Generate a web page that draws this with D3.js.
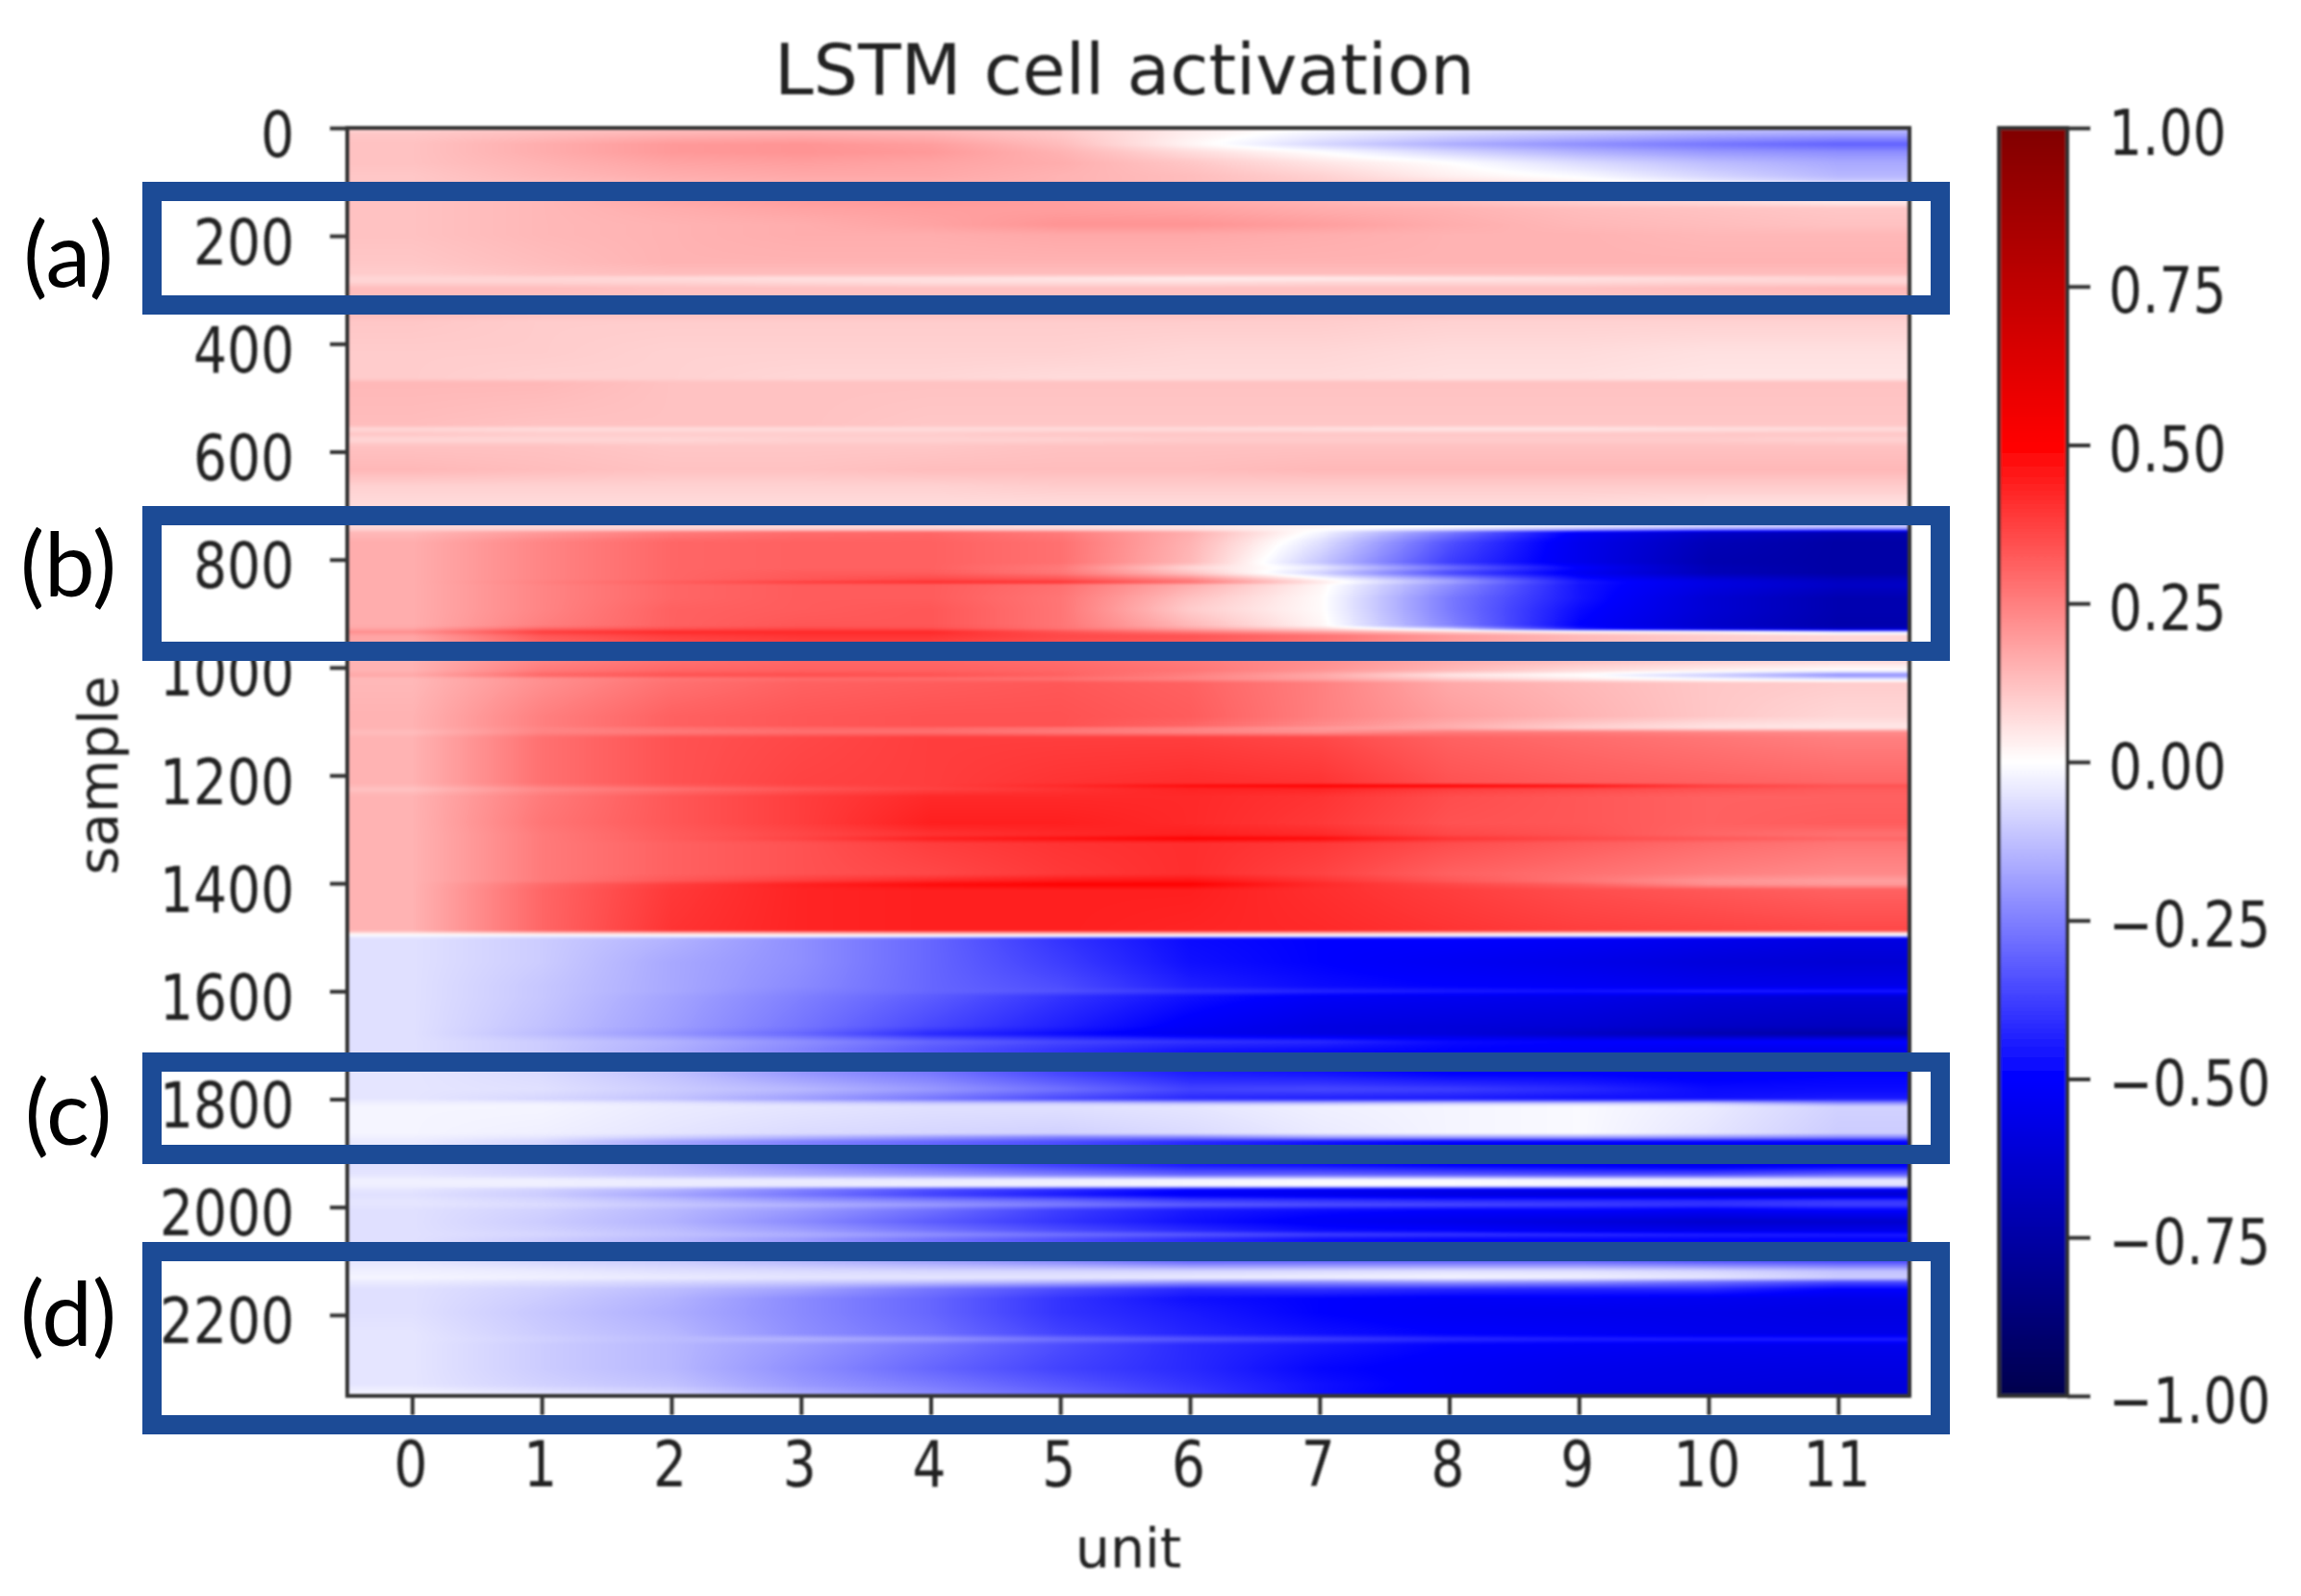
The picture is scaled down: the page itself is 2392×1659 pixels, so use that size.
<!DOCTYPE html>
<html>
<head>
  <meta charset="utf-8">
  <script src="https://d3js.org/d3.v7.min.js"></script>
  <style>
    body {
  margin: 0;
  background-color: #ffffff;
}

#heat, #chart {
  position: absolute;
  left: 0;
  top: 0;
}

#heat {
  filter: blur(1.2px);
}

.tick line {
  stroke: #333333;
  stroke-width: 4px;
}

.tick text, .axis-label {
  font-family: 'DejaVu Sans', sans-serif;
  fill: #222222;
}

.panel-label {
  font-family: 'Lato', sans-serif;
  font-size: 94px;
  fill: #000000;
  text-anchor: middle;
}
  </style>
</head>
<body>
<canvas id="heat"></canvas>
<svg id="chart"></svg>

<script>
// Cell activation: one row per sample position, 12 units.
const units = d3.range(12);

const sampleRows = [
  0, 12, 30, 45, 64, 89, 99, 103,
  139, 149, 180, 198, 248, 270, 279, 287, 297,
  347, 359, 416, 464, 472, 550, 558, 567, 578, 590, 634, 664, 699, 733, 743,
  750, 768, 805, 815, 825, 837, 842, 847, 872, 892, 922, 928, 934, 941,
  989, 1005, 1014, 1021, 1029, 1090, 1108, 1112, 1120, 1130, 1214, 1219, 1225, 1239,
  1288, 1310, 1317, 1326, 1382, 1395, 1402, 1412, 1487, 1491, 1497,
  1503, 1546, 1591, 1600, 1610, 1665, 1679, 1693, 1709,
  1754, 1782, 1799, 1808, 1814, 1863, 1871, 1879,
  1923, 1940, 1950, 1960, 1968, 1977, 1988, 1996, 2006, 2027, 2043, 2051, 2061,
  2101, 2119, 2131, 2139, 2152, 2170, 2196, 2235, 2245, 2255, 2299, 2329, 2347
];

const activation = [
  [.08,.10,.12,.13,.12,.10,.04,.00,-.03,-.06,-.10,-.12],
  [.11,.13,.15,.16,.15,.11,.03,-.03,-.08,-.12,-.16,-.18],
  [.12,.16,.20,.21,.19,.13,.02,-.08,-.16,-.22,-.27,-.31],
  [.12,.16,.20,.21,.20,.15,.07,.00,-.08,-.15,-.20,-.22],
  [.12,.15,.18,.19,.18,.16,.11,.05,.00,-.07,-.13,-.17],
  [.11,.14,.16,.17,.17,.15,.13,.09,.03,-.01,-.08,-.14],
  [.11,.13,.15,.16,.16,.15,.13,.10,.06,.02,-.04,-.10],
  [.11,.13,.15,.16,.17,.17,.16,.14,.12,.10,.08,.05],
  // (a)
  [.12,.14,.17,.19,.20,.19,.17,.15,.13,.10,.08,.05],
  [.12,.14,.16,.18,.19,.19,.18,.16,.15,.13,.12,.11],
  [.12,.14,.15,.16,.18,.21,.21,.19,.16,.14,.13,.12],
  [.12,.14,.15,.16,.16,.17,.17,.16,.15,.15,.14,.14],
  [.11,.13,.15,.15,.15,.15,.15,.15,.15,.15,.15,.15],
  [.10,.12,.13,.13,.13,.13,.13,.13,.13,.13,.13,.13],
  [.08,.08,.07,.06,.06,.05,.04,.04,.05,.06,.07,.08],
  [.09,.09,.09,.08,.07,.07,.07,.08,.08,.08,.09,.09],
  [.13,.13,.12,.12,.12,.12,.12,.12,.12,.12,.13,.14],
  // pale band
  [.13,.12,.12,.12,.12,.12,.12,.11,.11,.11,.11,.11],
  [.11,.10,.10,.10,.10,.10,.10,.10,.09,.09,.09,.09],
  [.10,.10,.09,.09,.09,.09,.08,.08,.07,.07,.06,.06],
  [.10,.09,.09,.08,.08,.07,.07,.07,.06,.06,.05,.05],
  [.14,.14,.12,.12,.12,.12,.12,.12,.12,.12,.12,.12],
  [.13,.12,.12,.12,.11,.11,.11,.11,.11,.11,.11,.11],
  [.08,.07,.07,.07,.07,.07,.07,.06,.05,.05,.06,.07],
  [.11,.10,.10,.10,.10,.11,.11,.11,.11,.11,.11,.11],
  [.08,.08,.08,.09,.09,.09,.10,.10,.10,.10,.10,.09],
  [.12,.12,.11,.11,.11,.12,.12,.12,.12,.12,.12,.12],
  [.14,.13,.12,.12,.13,.13,.13,.14,.14,.14,.14,.14],
  [.09,.09,.09,.09,.09,.10,.10,.10,.10,.10,.10,.10],
  [.07,.07,.07,.07,.07,.07,.07,.07,.07,.07,.06,.06],
  [.08,.09,.09,.09,.09,.08,.07,.04,.02,.00,-.03,-.05],
  [.08,.08,.08,.08,.08,.07,.05,.01,-.05,-.12,-.17,-.20],
  // (b)
  [.14,.20,.26,.29,.30,.26,.16,-.02,-.26,-.52,-.66,-.72],
  [.16,.24,.30,.31,.31,.28,.15,-.06,-.34,-.55,-.70,-.75],
  [.16,.24,.30,.31,.31,.28,.14,-.11,-.38,-.55,-.72,-.75],
  [.16,.24,.30,.31,.31,.26,.08,-.04,-.28,-.50,-.70,-.75],
  [.16,.24,.30,.32,.32,.27,.12,-.09,-.36,-.53,-.70,-.75],
  [.16,.24,.30,.33,.36,.34,.24,.02,-.20,-.47,-.60,-.69],
  [.16,.25,.32,.38,.41,.40,.28,.05,-.18,-.45,-.58,-.67],
  [.16,.24,.30,.32,.32,.28,.16,.02,-.22,-.46,-.58,-.66],
  [.16,.24,.30,.32,.32,.27,.12,.01,-.26,-.46,-.62,-.72],
  [.16,.24,.31,.32,.33,.27,.10,.01,-.26,-.48,-.62,-.72],
  [.16,.25,.31,.33,.33,.27,.14,.02,-.24,-.50,-.64,-.73],
  [.18,.30,.34,.36,.35,.28,.18,.08,-.10,-.45,-.60,-.68],
  [.22,.38,.42,.42,.42,.34,.26,.18,.10,.04,.02,-.08],
  [.18,.33,.38,.40,.40,.36,.34,.28,.20,.14,.10,.08],
  // red block
  [.15,.24,.28,.30,.30,.29,.26,.22,.16,.12,.09,.07],
  [.15,.26,.30,.31,.31,.30,.27,.21,.14,.07,.03,.00],
  [.17,.30,.34,.35,.34,.31,.25,.17,.05,.00,-.10,-.22],
  [.14,.22,.27,.29,.29,.28,.24,.18,.10,.04,-.02,-.07],
  [.14,.22,.28,.31,.32,.33,.31,.25,.17,.14,.11,.10],
  [.15,.25,.31,.33,.34,.34,.32,.25,.19,.15,.11,.08],
  [.15,.25,.31,.33,.34,.34,.30,.23,.16,.10,.06,.05],
  [.15,.24,.28,.30,.30,.28,.25,.20,.16,.09,.06,.05],
  [.13,.24,.26,.28,.28,.26,.24,.22,.26,.26,.24,.23],
  [.15,.28,.34,.36,.38,.38,.38,.36,.31,.29,.27,.25],
  [.15,.28,.34,.37,.38,.40,.41,.40,.34,.32,.31,.30],
  [.14,.26,.32,.36,.38,.42,.48,.50,.50,.47,.38,.34],
  [.12,.23,.28,.33,.37,.40,.43,.43,.38,.36,.34,.32],
  [.15,.26,.33,.38,.42,.42,.42,.40,.35,.33,.31,.31],
  [.15,.27,.33,.38,.44,.44,.42,.39,.34,.33,.31,.32],
  [.15,.26,.32,.36,.40,.42,.44,.42,.36,.34,.30,.28],
  [.15,.26,.32,.37,.44,.47,.50,.48,.40,.36,.33,.30],
  [.15,.26,.31,.34,.38,.40,.41,.39,.35,.32,.29,.27],
  [.15,.26,.31,.34,.36,.39,.41,.37,.31,.28,.25,.23],
  [.15,.26,.33,.38,.42,.45,.46,.40,.33,.27,.21,.19],
  [.15,.29,.38,.44,.48,.50,.50,.42,.36,.31,.22,.20],
  [.15,.30,.39,.43,.44,.44,.44,.41,.38,.35,.33,.31],
  [.15,.30,.40,.43,.44,.44,.43,.42,.40,.38,.37,.36],
  [.08,.15,.18,.20,.22,.22,.22,.20,.18,.16,.15,.14],
  [-.02,-.03,-.02,.00,.00,.00,.00,-.01,-.03,-.05,-.06,-.07],
  // blue block
  [-.06,-.10,-.15,-.22,-.30,-.40,-.48,-.50,-.50,-.52,-.55,-.58],
  [-.06,-.10,-.17,-.22,-.30,-.38,-.47,-.50,-.53,-.56,-.60,-.62],
  [-.06,-.11,-.17,-.23,-.30,-.35,-.44,-.48,-.50,-.52,-.55,-.56],
  [-.06,-.11,-.17,-.24,-.30,-.34,-.40,-.43,-.45,-.46,-.44,-.45],
  [-.06,-.11,-.18,-.25,-.32,-.40,-.47,-.52,-.54,-.56,-.60,-.62],
  [-.06,-.12,-.19,-.27,-.36,-.44,-.52,-.58,-.60,-.62,-.66,-.68],
  [-.06,-.13,-.21,-.30,-.42,-.48,-.54,-.58,-.60,-.66,-.72,-.75],
  [-.06,-.10,-.15,-.22,-.30,-.36,-.40,-.42,-.48,-.50,-.50,-.50],
  [-.06,-.10,-.16,-.24,-.33,-.40,-.46,-.48,-.50,-.52,-.55,-.55],
  // (c)
  [-.05,-.07,-.12,-.20,-.26,-.36,-.44,-.46,-.50,-.50,-.52,-.50],
  [-.05,-.06,-.10,-.14,-.20,-.28,-.37,-.36,-.38,-.42,-.48,-.48],
  [-.05,-.08,-.12,-.19,-.27,-.36,-.42,-.44,-.45,-.47,-.47,-.45],
  [-.03,-.03,-.05,-.08,-.10,-.10,-.12,-.12,-.10,-.10,-.10,-.20],
  [-.02,-.02,-.04,-.05,-.06,-.06,-.05,-.03,-.02,-.01,-.04,-.09],
  [-.02,-.03,-.05,-.07,-.08,-.09,-.07,-.04,-.02,-.01,-.05,-.10],
  [-.03,-.05,-.10,-.15,-.20,-.25,-.25,-.20,-.20,-.20,-.22,-.25],
  [-.04,-.08,-.18,-.25,-.30,-.35,-.42,-.47,-.50,-.50,-.50,-.50],
  // between (c) and (d)
  [-.06,-.09,-.14,-.22,-.30,-.38,-.45,-.47,-.50,-.52,-.55,-.52],
  [-.05,-.08,-.12,-.16,-.20,-.25,-.30,-.30,-.32,-.34,-.34,-.30],
  [-.03,-.03,-.04,-.04,-.04,-.03,-.02,-.01,-.01,-.02,-.03,-.05],
  [-.03,-.03,-.04,-.04,-.03,-.03,-.02,-.01,-.01,-.02,-.03,-.06],
  [-.05,-.09,-.15,-.25,-.35,-.42,-.50,-.53,-.55,-.55,-.55,-.55],
  [-.06,-.10,-.18,-.27,-.37,-.45,-.52,-.55,-.58,-.60,-.62,-.62],
  [-.05,-.08,-.13,-.20,-.25,-.30,-.38,-.40,-.42,-.42,-.42,-.40],
  [-.05,-.07,-.11,-.15,-.20,-.26,-.32,-.35,-.36,-.38,-.40,-.38],
  [-.06,-.09,-.14,-.20,-.28,-.38,-.45,-.48,-.50,-.50,-.52,-.50],
  [-.06,-.10,-.15,-.23,-.32,-.40,-.47,-.52,-.56,-.60,-.64,-.64],
  [-.06,-.09,-.13,-.19,-.27,-.35,-.42,-.48,-.50,-.54,-.56,-.56],
  [-.06,-.08,-.12,-.16,-.22,-.28,-.33,-.38,-.40,-.42,-.44,-.45],
  [-.06,-.10,-.14,-.20,-.28,-.35,-.42,-.48,-.50,-.50,-.50,-.50],
  // (d)
  [-.05,-.08,-.10,-.14,-.18,-.23,-.30,-.30,-.30,-.30,-.33,-.35],
  [-.03,-.04,-.06,-.07,-.08,-.08,-.08,-.07,-.06,-.06,-.08,-.12],
  [-.02,-.03,-.04,-.05,-.05,-.05,-.04,-.03,-.02,-.03,-.05,-.10],
  [-.04,-.06,-.08,-.10,-.12,-.15,-.20,-.22,-.20,-.22,-.28,-.35],
  [-.06,-.09,-.13,-.18,-.27,-.35,-.42,-.40,-.42,-.43,-.42,-.50],
  [-.06,-.10,-.15,-.23,-.30,-.40,-.47,-.50,-.52,-.52,-.54,-.56],
  [-.06,-.11,-.16,-.23,-.30,-.40,-.45,-.50,-.53,-.55,-.56,-.58],
  [-.05,-.10,-.14,-.22,-.28,-.37,-.43,-.47,-.50,-.52,-.55,-.56],
  [-.05,-.09,-.13,-.15,-.20,-.28,-.33,-.38,-.42,-.44,-.44,-.44],
  [-.05,-.10,-.14,-.20,-.27,-.35,-.42,-.46,-.50,-.52,-.54,-.55],
  [-.05,-.10,-.14,-.22,-.30,-.37,-.42,-.49,-.52,-.55,-.57,-.58],
  [-.05,-.09,-.12,-.20,-.26,-.33,-.40,-.47,-.52,-.56,-.58,-.60],
  [-.02,-.05,-.08,-.16,-.23,-.30,-.38,-.47,-.53,-.57,-.60,-.60]
];

const sampleTicks = d3.range(0, 2400, 200);
const colorTicks = [1, 0.75, 0.5, 0.25, 0, -0.25, -0.5, -0.75, -1];

const panelNames = ["(a)", "(b)", "(c)", "(d)"];
const panelTop = [189, 526, 1094, 1291];
const panelBottom = [327, 687, 1210, 1491];
const panelBaseline = [298, 620, 1190, 1399];

if (sampleRows.length !== activation.length) console.error("row count mismatch");

const width = 2392;
const height = 1659;
const plot = { left: 361, right: 1985, top: 133, bottom: 1451 };
const bar = { left: 2078, right: 2149 };

const x = d3.scaleLinear().domain([-0.5, 11.55]).range([plot.left, plot.right]);
const y = d3.scaleLinear().domain([0, 2350]).range([plot.top, plot.bottom]);
const barY = d3.scaleLinear().domain([-1, 1]).range([plot.bottom, plot.top]);

// same breakpoints as matplotlib's seismic colormap
const color = d3.scaleLinear()
  .domain([-1, -0.5, 0, 0.5, 1])
  .range(["#00004c", "#0000ff", "#ffffff", "#ff0000", "#800000"]);

// Heatmap, interpolated per pixel like imshow does
const canvas = document.getElementById("heat");
canvas.width = width;
canvas.height = height;
const ctx = canvas.getContext("2d");
const lut = d3.range(2001).map(i => d3.rgb(color(i / 1000 - 1)));
const w = plot.right - plot.left;
const h = plot.bottom - plot.top;
const img = ctx.createImageData(w, h);

for (let py = 0; py < h; py++) {
  const s = y.invert(plot.top + py + 0.5);
  const r1 = Math.min(d3.bisectRight(sampleRows, s), sampleRows.length - 1);
  const r0 = Math.max(r1 - 1, 0);
  const span = sampleRows[r1] - sampleRows[r0];
  const tr = span > 0 ? Math.min(Math.max((s - sampleRows[r0]) / span, 0), 1) : 0;
  for (let px = 0; px < w; px++) {
    const u = Math.min(Math.max(x.invert(plot.left + px + 0.5), 0), 11);
    const c0 = Math.floor(u);
    const c1 = Math.min(c0 + 1, 11);
    const tc = u - c0;
    const top = activation[r0][c0] * (1 - tc) + activation[r0][c1] * tc;
    const bot = activation[r1][c0] * (1 - tc) + activation[r1][c1] * tc;
    const col = lut[Math.round((top * (1 - tr) + bot * tr + 1) * 1000)];
    const k = (py * w + px) * 4;
    img.data[k] = col.r;
    img.data[k + 1] = col.g;
    img.data[k + 2] = col.b;
    img.data[k + 3] = 255;
  }
}
ctx.putImageData(img, plot.left, plot.top);

const svg = d3.select("#chart")
  .attr("width", width)
  .attr("height", height);

const defs = svg.append("defs");

defs.append("filter")
  .attr("id", "soft")
  .append("feGaussianBlur")
  .attr("stdDeviation", 0.9);

defs.append("linearGradient")
  .attr("id", "bar-gradient")
  .attr("x1", 0).attr("x2", 0).attr("y1", 1).attr("y2", 0)
  .selectAll("stop")
  .data(color.domain())
  .enter()
  .append("stop")
  .attr("offset", d => (d + 1) / 2)
  .attr("stop-color", d => color(d));

const chart = svg.append("g").attr("filter", "url(#soft)");

// the digits in the picture are stretched a bit vertically
function styleLabels(g, dx, dy, anchor) {
  g.select(".domain").remove();
  g.selectAll(".tick text")
    .attr("x", null)
    .attr("y", null)
    .attr("dy", null)
    .style("text-anchor", anchor)
    .style("font-size", "55px")
    .attr("transform", `translate(${dx},${dy}) scale(1,1.2)`);
}

chart.append("g")
  .attr("transform", `translate(0,${plot.bottom})`)
  .call(d3.axisBottom(x).tickValues(units).tickSize(20).tickFormat(d3.format("d")))
  .attr("font-family", null).attr("font-size", null)
  .call(g => styleLabels(g, -2, 94, "middle"));

chart.append("g")
  .attr("transform", `translate(${plot.left},0)`)
  .call(d3.axisLeft(y).tickValues(sampleTicks).tickSize(18).tickFormat(d3.format("d")))
  .attr("font-family", null).attr("font-size", null)
  .call(g => styleLabels(g, -55, 29, "end"));

chart.append("rect")
  .attr("x", plot.left)
  .attr("y", plot.top)
  .attr("width", w)
  .attr("height", h)
  .attr("fill", "none")
  .attr("stroke", "#333333")
  .attr("stroke-width", 4);

// Colorbar
chart.append("rect")
  .attr("x", bar.left)
  .attr("y", plot.top)
  .attr("width", bar.right - bar.left)
  .attr("height", h)
  .attr("fill", "url(#bar-gradient)")
  .attr("stroke", "#333333")
  .attr("stroke-width", 4);

chart.append("g")
  .attr("transform", `translate(${bar.right},0)`)
  .call(d3.axisRight(barY).tickValues(colorTicks).tickSize(24).tickFormat(d3.format(".2f")))
  .attr("font-family", null).attr("font-size", null)
  .call(g => styleLabels(g, 43, 27, "start"));

// Titles
chart.append("text")
  .attr("class", "axis-label")
  .attr("x", 1169)
  .attr("y", 98)
  .attr("text-anchor", "middle")
  .attr("font-size", 73)
  .text("LSTM cell activation");

chart.append("text")
  .attr("class", "axis-label")
  .attr("x", 1173)
  .attr("y", 1629)
  .attr("text-anchor", "middle")
  .attr("font-size", 57)
  .text("unit");

chart.append("text")
  .attr("class", "axis-label")
  .attr("transform", "translate(122,806) rotate(-90)")
  .attr("text-anchor", "middle")
  .attr("font-size", 57)
  .text("sample");

// Highlight boxes and their letters sit on top, crisp
const panels = svg.selectAll(".panel")
  .data(panelNames)
  .enter()
  .append("g")
  .attr("class", "panel");

panels.append("rect")
  .attr("x", 158)
  .attr("y", (d, i) => panelTop[i] + 10)
  .attr("width", 1859)
  .attr("height", (d, i) => panelBottom[i] - panelTop[i] - 20)
  .attr("fill", "none")
  .attr("stroke", "#1c4b96")
  .attr("stroke-width", 20);

panels.append("text")
  .attr("class", "panel-label")
  .attr("x", 71)
  .attr("y", (d, i) => panelBaseline[i])
  .text(d => d);
</script>
</body>
</html>
